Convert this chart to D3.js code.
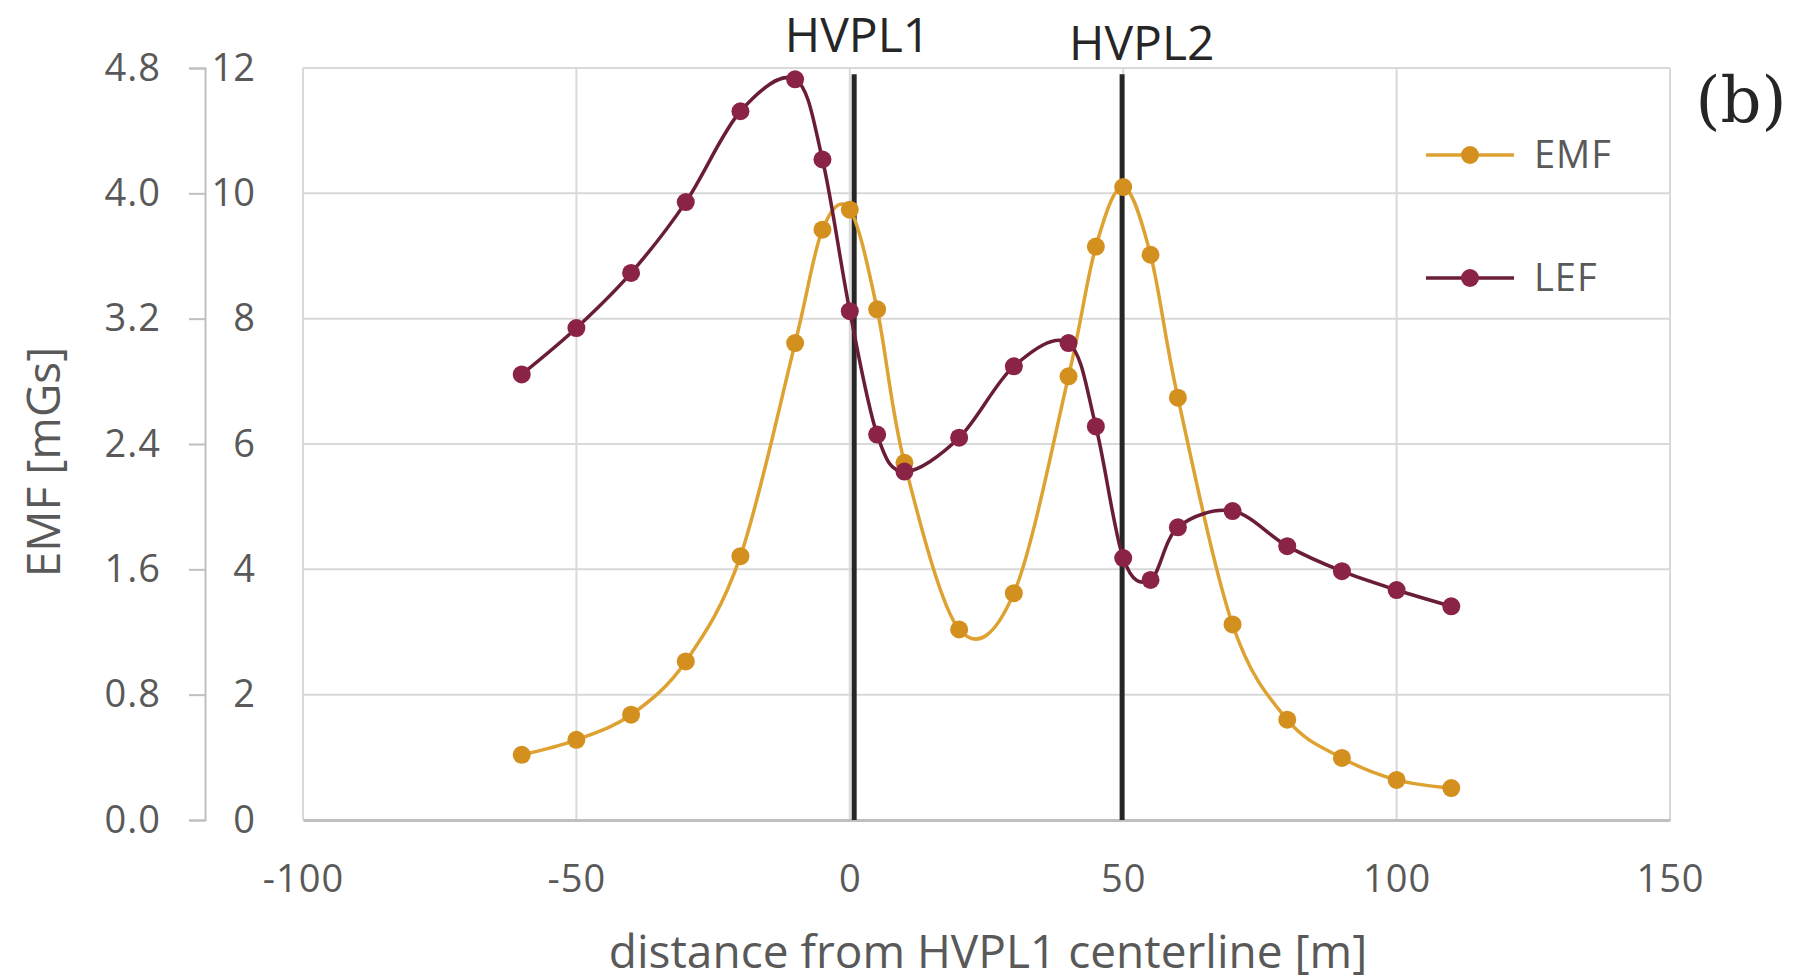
<!DOCTYPE html>
<html>
<head>
<meta charset="UTF-8">
<title>EMF and LEF vs distance from HVPL1</title>
<script src="https://cdn.jsdelivr.net/npm/d3@7"></script>
<style>
  body { margin: 0; background: #fff; }
  #chart text { font-family: "Open Sans", sans-serif; }
  .grid line { stroke: #d9d9d9; stroke-width: 2; }
  .axis text { fill: #595959; }
</style>
</head>
<body>
<svg id="chart" width="1796" height="980"></svg>
<script>
  // values
  var distance = [-60, -50, -40, -30, -20, -10, -5, 0, 5, 10, 20, 30, 40, 45, 50, 55, 60, 70, 80, 90, 100, 110];
  var emfValues = [1.04, 1.28, 1.68, 2.53, 4.21, 7.61, 9.42, 9.74, 8.15, 5.7, 3.04, 3.62, 7.08, 9.15, 10.1, 9.02, 6.74, 3.12, 1.6, 0.99, 0.64, 0.51];
  var lefValues = [7.11, 7.85, 8.73, 9.86, 11.31, 11.82, 10.54, 8.12, 6.15, 5.56, 6.1, 7.24, 7.61, 6.28, 4.18, 3.83, 4.67, 4.93, 4.37, 3.97, 3.67, 3.41];
  var xTicks = [-100, -50, 0, 50, 100, 150];
  var yTicks = [0, 2, 4, 6, 8, 10, 12];
  var mgsTicks = [0, 0.8, 1.6, 2.4, 3.2, 4.0, 4.8];
  var lineNames = ['HVPL1', 'HVPL2'];
  var linePos = [0.8, 49.8];
  var labelPos = [1.4, 53.4];

  var series = [
    { name: 'EMF', values: emfValues, line: '#dea233', dot: '#d4901e' },
    { name: 'LEF', values: lefValues, line: '#6a1d37', dot: '#8a2346' }
  ];

  var svg = d3.select('#chart');
  var plotLeft = 303, plotRight = 1670, plotTop = 68, plotBottom = 820;

  var x = d3.scaleLinear().domain([-100, 150]).range([plotLeft, plotRight]);
  var y = d3.scaleLinear().domain([0, 12]).range([plotBottom, plotTop]);
  var y2 = d3.scaleLinear().domain([0, 4.8]).range([plotBottom, plotTop]);

  // gridlines
  var grid = svg.append('g').attr('class', 'grid');
  grid.selectAll('.h').data(yTicks).enter().append('line')
    .attr('x1', plotLeft).attr('x2', plotRight)
    .attr('y1', function(d) { return y(d); }).attr('y2', function(d) { return y(d); });
  grid.selectAll('.v').data(xTicks).enter().append('line')
    .attr('y1', plotTop).attr('y2', plotBottom)
    .attr('x1', function(d) { return x(d); }).attr('x2', function(d) { return x(d); });

  // x axis
  var xAxis = svg.append('g').attr('class', 'axis')
    .attr('transform', 'translate(0,' + plotBottom + ')')
    .call(d3.axisBottom(x).tickValues(xTicks).tickSize(0).tickPadding(45)
      .tickFormat(function(d) { return String(d); }));
  xAxis.select('.domain').attr('stroke', '#bfbfbf').attr('stroke-width', 3);
  xAxis.selectAll('text').style('font-size', '38px').style('letter-spacing', '1px');

  // primary y axis (labels only)
  var yAxis = svg.append('g').attr('class', 'axis')
    .attr('transform', 'translate(' + plotLeft + ',0)')
    .call(d3.axisLeft(y).tickValues(yTicks).tickSize(0).tickPadding(48));
  yAxis.select('.domain').remove();
  yAxis.selectAll('text').style('font-size', '38px');

  // outer axis in mGs
  var y2Axis = svg.append('g').attr('class', 'axis')
    .attr('transform', 'translate(205,0)')
    .call(d3.axisLeft(y2).tickValues(mgsTicks).tickFormat(d3.format('.1f')).tickSize(16).tickPadding(28));
  y2Axis.selectAll('path, line').attr('stroke', '#bfbfbf').attr('stroke-width', 2);
  y2Axis.selectAll('text').style('font-size', '38px').style('letter-spacing', '1px');

  svg.append('text')
    .attr('transform', 'translate(60,' + 462 + ') rotate(-90)')
    .attr('text-anchor', 'middle')
    .style('font-size', '46px').attr('fill', '#595959')
    .text('EMF [mGs]');

  svg.append('text')
    .attr('x', 988).attr('y', 968)
    .attr('text-anchor', 'middle')
    .style('font-size', '46px').attr('fill', '#595959')
    .text('distance from HVPL1 centerline [m]');

  // line positions
  svg.selectAll('.hvpl').data(linePos).enter().append('line')
    .attr('x1', function(d) { return x(d); }).attr('x2', function(d) { return x(d); })
    .attr('y1', y(11.9)).attr('y2', plotBottom)
    .attr('stroke', '#262626').attr('stroke-width', 5);

  svg.selectAll('.hvpl-label').data(lineNames).enter().append('text')
    .attr('x', function(d, i) { return x(labelPos[i]); })
    .attr('y', function(d, i) { return i === 0 ? 52 : 60; })
    .attr('text-anchor', 'middle')
    .style('font-size', '48px').attr('fill', '#262626')
    .text(function(d) { return d; });

  // series
  var curve = d3.line()
    .x(function(d) { return x(d[0]); })
    .y(function(d) { return y(d[1]); })
    .curve(d3.curveCatmullRom.alpha(0));

  series.forEach(function(s) {
    var pts = distance.map(function(d, i) { return [d, s.values[i]]; });
    svg.append('path').datum(pts)
      .attr('d', curve).attr('fill', 'none')
      .attr('stroke', s.line).attr('stroke-width', 3.5);
    svg.selectAll('.dot-' + s.name).data(pts).enter().append('circle')
      .attr('cx', function(d) { return x(d[0]); })
      .attr('cy', function(d) { return y(d[1]); })
      .attr('r', 9).attr('fill', s.dot);
  });

  // legend
  var legend = svg.selectAll('.legend').data(series).enter().append('g')
    .attr('transform', function(d, i) { return 'translate(1426,' + (155 + i * 123) + ')'; });
  legend.append('line').attr('x1', 0).attr('x2', 88)
    .attr('stroke', function(d) { return d.line; }).attr('stroke-width', 3.5);
  legend.append('circle').attr('cx', 44).attr('r', 9)
    .attr('fill', function(d) { return d.dot; });
  legend.append('text').attr('x', 108).attr('dy', '0.35em')
    .style('font-size', '38px').style('letter-spacing', '1px').attr('fill', '#595959')
    .text(function(d) { return d.name; });

  svg.append('text')
    .attr('x', 1741).attr('y', 122)
    .attr('text-anchor', 'middle')
    .style('font-family', '"DejaVu Serif", serif')
    .style('font-size', '64px').attr('fill', '#262626')
    .text('(b)');
</script>
</body>
</html>
